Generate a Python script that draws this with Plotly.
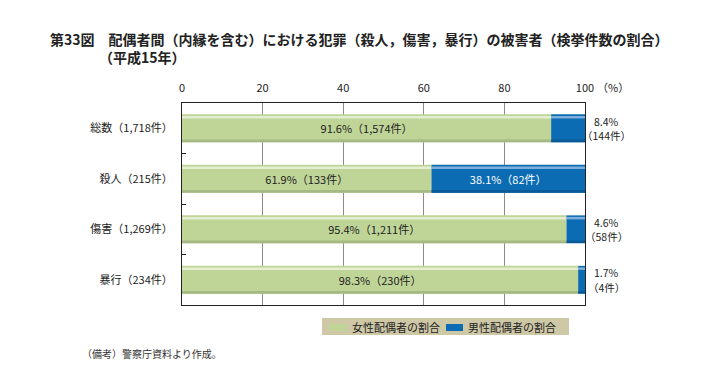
import plotly.graph_objects as go

categories = ["総数（1,718件）", "殺人（215件）", "傷害（1,269件）", "暴行（234件）"]
female_pct = [91.6, 61.9, 95.4, 98.3]
female_cnt = [1574, 133, 1211, 230]
male_pct = [8.4, 38.1, 4.6, 1.7]
male_cnt = [144, 82, 58, 4]
x_ticks = [0, 20, 40, 60, 80, 100]
series_names = ["女性配偶者の割合", "男性配偶者の割合"]

FONT = "Noto Sans CJK JP"
GREEN = "#bfd598"
BLUE = "#0b6cb3"

female_text = [f"{p}%（{c:,}件）" for p, c in zip(female_pct, female_cnt)]
male_text_inside = [f"{p}%（{c:,}件）" if p > 20 else "" for p, c in zip(male_pct, male_cnt)]

fig = go.Figure()

fig.add_trace(go.Bar(
    y=categories, x=female_pct, orientation="h", name=series_names[0],
    marker=dict(color=GREEN, line=dict(width=0)), width=0.55,
    text=female_text, textposition="inside", insidetextanchor="middle",
    textangle=0, constraintext="none",
    insidetextfont=dict(family=FONT, size=11, color="#222222"),
))
fig.add_trace(go.Bar(
    y=categories, x=male_pct, base=female_pct, orientation="h", name=series_names[1],
    marker=dict(color=BLUE, line=dict(width=0)), width=0.55,
    text=male_text_inside, textposition="inside", insidetextanchor="middle",
    textangle=0, constraintext="none",
    insidetextfont=dict(family=FONT, size=11, color="#ffffff"),
))
# highlight / shade strips (bar gradient imitation)
fig.add_trace(go.Bar(y=categories, x=female_pct, orientation="h", showlegend=False,
                     marker=dict(color="#e4eed2", line=dict(width=0)), width=0.05, offset=-0.245,
                     hoverinfo="skip"))
fig.add_trace(go.Bar(y=categories, x=male_pct, base=female_pct, orientation="h", showlegend=False,
                     marker=dict(color="#7eaedc", line=dict(width=0)), width=0.05, offset=-0.245,
                     hoverinfo="skip"))
fig.add_trace(go.Bar(y=categories, x=female_pct, orientation="h", showlegend=False,
                     marker=dict(color="#a4b983", line=dict(width=0)), width=0.05, offset=0.225,
                     hoverinfo="skip"))
fig.add_trace(go.Bar(y=categories, x=male_pct, base=female_pct, orientation="h", showlegend=False,
                     marker=dict(color="#0a5b98", line=dict(width=0)), width=0.05, offset=0.225,
                     hoverinfo="skip"))

annotations = []
for cat, p, c in zip(categories, male_pct, male_cnt):
    if p <= 20:
        annotations.append(dict(
            x=100, y=cat, xref="x", yref="y", text=f"{p}%",
            showarrow=False, xanchor="center", yanchor="middle", xshift=21, yshift=7,
            font=dict(family=FONT, size=10.5, color="#222222"),
        ))
        annotations.append(dict(
            x=100, y=cat, xref="x", yref="y", text=f"（{c}件）",
            showarrow=False, xanchor="center", yanchor="middle", xshift=21, yshift=-7.5,
            font=dict(family=FONT, size=10.5, color="#222222"),
        ))

annotations.append(dict(
    x=1.0, y=1.0, xref="paper", yref="paper", text="（%）", showarrow=False,
    xanchor="left", yanchor="middle", xshift=10, yshift=16,
    font=dict(family=FONT, size=11, color="#222222"),
))

L, R, T, B = 182, 139, 103, 70
pw, ph = 724 - L - R, 375 - T - B


def px2paper(px, py):
    return (px - L) / pw, (375 - B - py) / ph


# legend built from layout shapes + annotations
shapes = []
bx0, by0 = px2paper(322, 318)
bx1, by1 = px2paper(569, 335)
shapes.append(dict(type="rect", xref="paper", yref="paper", x0=bx0, y0=by1, x1=bx1, y1=by0,
                   fillcolor="#cec8a6", line=dict(width=0), layer="below"))
for (sx0, tx), col, name in zip([(329, 350), (446, 466)], [GREEN, BLUE], series_names):
    a0, b0 = px2paper(sx0, 324)
    a1, b1 = px2paper(sx0 + 17, 331)
    shapes.append(dict(type="rect", xref="paper", yref="paper", x0=a0, y0=b1, x1=a1, y1=b0,
                       fillcolor=col, line=dict(width=0)))
    tx_, ty_ = px2paper(tx, 327)
    annotations.append(dict(
        x=tx_, y=ty_, xref="paper", yref="paper", text=name, showarrow=False,
        xanchor="left", yanchor="middle",
        font=dict(family=FONT, size=11, color="#222222"),
    ))

sx, sy = px2paper(97, 57)
annotations.append(dict(
    x=sx, y=sy, xref="paper", yref="paper", text="（平成15年）",
    showarrow=False, xanchor="left", yanchor="middle",
    font=dict(family=FONT, size=14, color="#222222", weight=600),
))
fx, fy = px2paper(80, 353)
annotations.append(dict(
    x=fx, y=fy, xref="paper", yref="paper", text="（備考）警察庁資料より作成。",
    showarrow=False, xanchor="left", yanchor="middle",
    font=dict(family=FONT, size=10, color="#333333"),
))

fig.update_layout(
    width=724, height=375,
    margin=dict(l=L, r=R, t=T, b=B),
    paper_bgcolor="white", plot_bgcolor="white",
    barmode="overlay", bargap=0.45,
    font=dict(family=FONT, size=11, color="#222222"),
    title=dict(
        text="第33図　配偶者間（内縁を含む）における犯罪（殺人，傷害，暴行）の被害者（検挙件数の割合）",
        x=50 / 724, xanchor="left", xref="container",
        y=1 - 40 / 375, yanchor="middle", yref="container",
        font=dict(family=FONT, size=14, color="#222222", weight=600),
    ),
    xaxis=dict(
        side="top", range=[0, 100], tickvals=x_ticks, ticktext=[str(v) for v in x_ticks],
        showgrid=True, gridcolor="#8c8c8c", gridwidth=1, zeroline=False,
        showline=True, linecolor="#222222", linewidth=1, mirror=True,
        ticks="", ticklabelstandoff=6,
        tickfont=dict(family=FONT, size=11, color="#222222"),
        fixedrange=True,
    ),
    yaxis=dict(
        type="category", categoryorder="array", categoryarray=categories, autorange="reversed",
        showgrid=False, zeroline=False,
        showline=True, linecolor="#222222", linewidth=1, mirror=True,
        ticks="inside", tickson="boundaries", ticklen=4, tickcolor="#222222",
        ticklabelstandoff=6,
        tickfont=dict(family=FONT, size=11, color="#222222"),
        fixedrange=True,
    ),
    shapes=shapes,
    annotations=annotations,
    showlegend=False,
)

fig.write_html("out.html", config={"displayModeBar": False},
               post_script="document.body.style.margin='0px';")
